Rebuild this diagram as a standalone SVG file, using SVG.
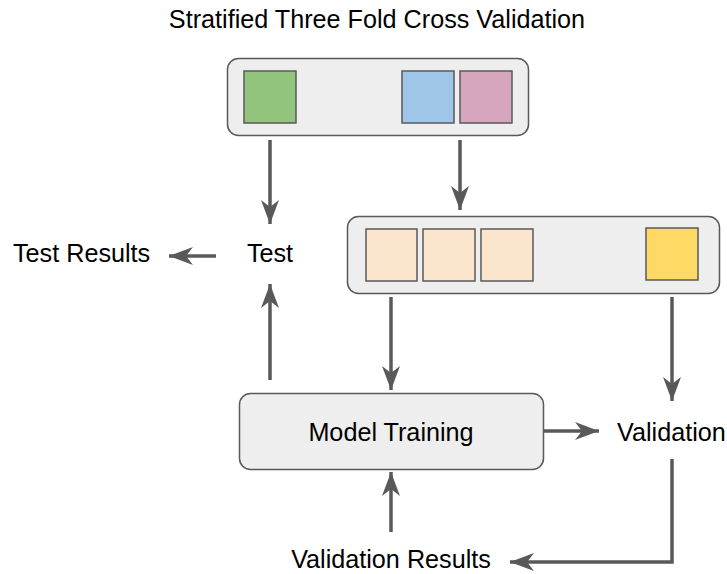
<svg xmlns="http://www.w3.org/2000/svg" width="727" height="574" viewBox="0 0 727 574">
<defs>
<style>
.box{fill:#eeeeee;stroke:#595959;stroke-width:1.5}
.sq{stroke:#595959;stroke-width:1.5}
.t{font-family:"Liberation Sans",Arial,sans-serif;font-size:25.2px;fill:#000}
.c{fill:none;stroke:#595959;stroke-width:3.5}
</style>
<marker id="ah" markerUnits="userSpaceOnUse" markerWidth="30" markerHeight="24" viewBox="-26 -12 30 24" refX="0" refY="0" orient="auto">
<path d="M0,0 L-24,-9 L-17,0 L-24,9 Z" fill="#595959"/>
</marker>
</defs>
<text class="t" x="377" y="28" text-anchor="middle">Stratified Three Fold Cross Validation</text>
<g id="folds">
<rect class="box" x="227.5" y="58.5" width="301" height="77" rx="11"/>
<rect class="sq" x="244" y="71" width="52" height="52" fill="#93c47d"/>
<rect class="sq" x="402" y="71" width="52" height="52" fill="#9fc5e8"/>
<rect class="sq" x="460" y="71" width="52" height="52" fill="#d5a6bd"/>
</g>
<g id="split">
<rect class="box" x="347.5" y="216.5" width="372" height="77" rx="11"/>
<rect class="sq" x="366" y="229" width="51" height="52" fill="#fce5cd"/>
<rect class="sq" x="423" y="229" width="52" height="52" fill="#fce5cd"/>
<rect class="sq" x="481" y="229" width="52" height="52" fill="#fce5cd"/>
<rect class="sq" x="646" y="228" width="52" height="52" fill="#ffd966"/>
</g>
<g id="test"><text class="t" x="270" y="262" text-anchor="middle">Test</text></g>
<g id="testResults"><text class="t" x="13" y="262">Test Results</text></g>
<g id="modelTraining">
<rect class="box" x="239.5" y="393.5" width="304" height="76" rx="11"/>
<text class="t" x="391" y="441" text-anchor="middle">Model Training</text>
</g>
<g id="validation"><text class="t" x="617" y="441">Validation</text></g>
<g id="validationResults"><text class="t" x="391" y="568" text-anchor="middle">Validation Results</text></g>
<g id="connectors">
<path class="c" d="M270,140 L270,224" marker-end="url(#ah)"/>
<path class="c" d="M460,140 L460,210" marker-end="url(#ah)"/>
<path class="c" d="M216,256 L169,256" marker-end="url(#ah)"/>
<path class="c" d="M270,380 L270,284" marker-end="url(#ah)"/>
<path class="c" d="M391,297 L391,390" marker-end="url(#ah)"/>
<path class="c" d="M672,297 L672,401" marker-end="url(#ah)"/>
<path class="c" d="M543,431 L599,431" marker-end="url(#ah)"/>
<path class="c" d="M672,459 L672,562 L510,562" marker-end="url(#ah)"/>
<path class="c" d="M391,532 L391,472" marker-end="url(#ah)"/>
</g>
</svg>
